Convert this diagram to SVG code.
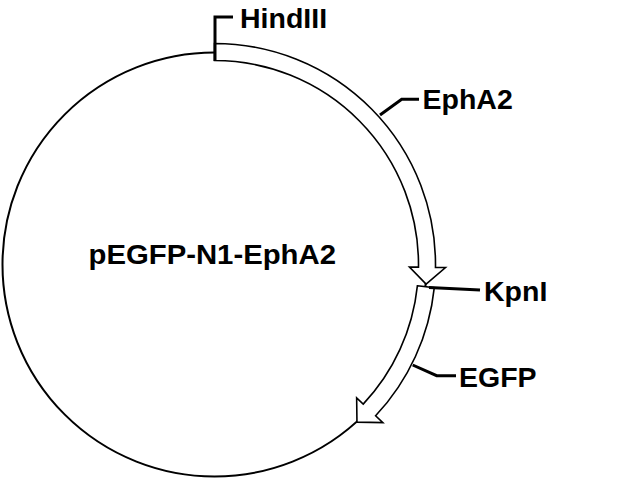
<svg xmlns="http://www.w3.org/2000/svg" width="640" height="480" viewBox="0 0 640 480">
<style>
.bb{fill:none;stroke:#000;stroke-width:2}
.feat{fill:#fff;stroke:#000;stroke-width:1.6;stroke-linejoin:miter}
.lead{fill:none;stroke:#000;stroke-width:3}
.lbl{font-family:"Liberation Sans",Arial,sans-serif;font-weight:bold;font-size:28.5px;fill:#000}
</style>
<rect x="0" y="0" width="640" height="480" fill="#fff"/>
<g id="backbone">
<circle class="bb" cx="214.5" cy="264.5" r="212"/>
</g>
<g id="EphA2-feature">
<path class="feat" d="M214.5 60.5 L214.5 43.5 A221 221 0 0 1 435.48 267.39 L445.48 267.52 L426.09 284.13 L409.48 267.05 L418.48 267.17 A204 204 0 0 0 214.5 60.5 Z"/>
</g>
<g id="EGFP-feature">
<path class="feat" d="M417.38 285.82 L434.29 287.6 A221 221 0 0 1 375.6 415.79 L382.89 422.63 L356.97 422.17 L356.65 397.99 L363.21 404.15 A204 204 0 0 0 417.38 285.82 Z"/>
</g>
<g id="connectors">
<path class="lead" d="M233 17 H215 V61"/>
<path class="lead" d="M380 115 L401.7 99.3 H419"/>
<path class="lead" d="M429 287.5 L480 290"/>
<path class="lead" d="M412.7 365 L436.7 375.7 H456"/>
</g>
<g id="HindIII"><text class="lbl" x="240" y="27.5">HindIII</text></g>
<g id="EphA2"><text class="lbl" x="422.5" y="108.5">EphA2</text></g>
<g id="KpnI"><text class="lbl" x="484" y="301">KpnI</text></g>
<g id="EGFP"><text class="lbl" x="459" y="386.5">EGFP</text></g>
<g id="plasmid-name"><text class="lbl" x="88.5" y="264" textLength="247.5" lengthAdjust="spacingAndGlyphs">pEGFP-N1-EphA2</text></g>
</svg>
